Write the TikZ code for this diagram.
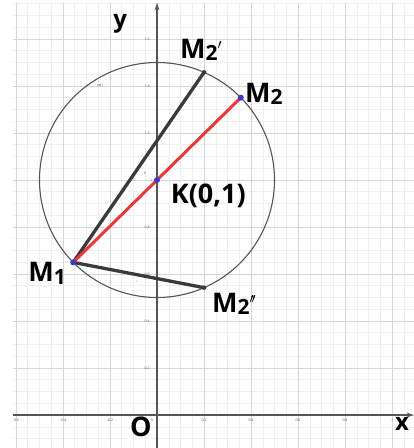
\documentclass[tikz,border=0pt]{standalone}
\usepackage{fontspec}
\setmainfont{Open Sans}
\usetikzlibrary{arrows.meta}
\definecolor{gridmaj}{HTML}{D6D6D6}
\definecolor{gridmin}{HTML}{EFEFEF}
\definecolor{axiscol}{HTML}{555555}
\definecolor{segdark}{HTML}{3A3A3A}
\definecolor{segred}{HTML}{E8383A}
\definecolor{ptblue}{HTML}{3B3BC8}
\newcommand{\subd}[1]{{\fontsize{21}{21}\selectfont\raisebox{-2.5pt}{#1}}}
\newcommand{\prm}{\raisebox{9pt}{\fontsize{15}{15}\selectfont$\prime$}}
\begin{document}
\begin{tikzpicture}[x=235pt,y=235pt,
  lbl/.style={font=\fontsize{27}{27}\selectfont\bfseries, inner sep=0pt, anchor=base west},
  axlbl/.style={font=\fontsize{24}{24}\selectfont\bfseries, inner sep=0pt, anchor=base west},
  tick/.style={font=\fontsize{3.5}{3.5}\selectfont, text=black!70, inner sep=0pt},
  pt/.style={circle, fill=ptblue, inner sep=0pt, minimum size=6pt},
  endpt/.style={circle, fill=segdark, inner sep=0pt, minimum size=4.5pt},
  seg/.style={draw=segdark, line width=3.3pt},
  redseg/.style={draw=segred, line width=3pt}]
\useasboundingbox (-0.66809,-0.14043) rectangle (1.09362,1.76596);
% grid
\begin{scope}
\clip (-0.613,-0.14043) rectangle (1.09362,1.749);
\draw[gridmin, line width=0.5pt, step=0.05] (-0.7,-0.2) grid (1.2,1.8);
\draw[gridmaj, line width=0.8pt, step=0.2] (-0.8,-0.2) grid (1.2,1.8);
\end{scope}
% axes
\coordinate (xa) at (-0.613,0);
\coordinate (xb) at (1.092,0);
\coordinate (ya) at (0,-0.14043);
\coordinate (yb) at (0,1.752);
\draw[axiscol, line width=1.3pt, -{Stealth[length=7pt,width=5pt]}] (xa) -- (xb);
\draw[axiscol, line width=1.3pt, -{Stealth[length=7pt,width=5pt]}] (ya) -- (yb);
% tick labels
\foreach \v/\t in {-0.6/-0.6,-0.4/-0.4,-0.2/-0.2,0.2/0.2,0.4/0.4,0.6/0.6,0.8/0.8,1/1}
  \node[tick] at (\v,-0.022) {\t};
\node[tick] (t0) at (-0.022,-0.022) {0};
\foreach \v in {0.2,0.4,0.6,0.8,1.2,1.4,1.6}
  \node[tick] at (-0.042,\v) {\v};
\node[tick] at (-0.025,1.0) {1};
% circle
\node[draw=axiscol, line width=1.1pt, circle, minimum size=235pt, inner sep=0pt] (c) at (0,1) {};
\node[tick] at (-0.242,1.4) {eq1};
\node[tick] at (-0.05,1.03) {h};
\node[tick] at (-0.085,0.57) {i};
% points
\coordinate (K) at (0,1);
\path (0,1) ++(224.5:0.5) coordinate (M1);
\path (0,1) ++(44.5:0.5) coordinate (M2);
\path (0,1) ++(66.4:0.5) coordinate (M2p);
\path (0,1) ++(-66.4:0.5) coordinate (M2pp);
\draw[seg] (M1) -- (M2p);
\draw[seg] (M1) -- (M2pp);
\draw[redseg] (M1) -- (M2);
\node[endpt] at (M2p) {};
\node[endpt] at (M2pp) {};
\node[pt] (nM1) at (M1) {};
\node[pt] (nM2) at (M2) {};
\node[pt] (nK) at (K) {};
% labels
\node[lbl] (lM2p) at (0.0979,1.519) {M\subd{2}\prm};
\node[lbl] (lM2) at (0.3745,1.3319) {M\subd{2}};
\node[lbl] (lK) at (0.0583,0.9009) {K(0,1)};
\node[lbl] (lM1) at (-0.5477,0.5672) {M\subd{1}};
\node[lbl] (lM2pp) at (0.234,0.437) {M\subd{2}\prm\kern-2pt\prm};
\node[lbl] (lO) at (-0.1149,-0.0923) {O};
\node[axlbl] (lx) at (1.0128,-0.068) {x};
\node[axlbl] (ly) at (-0.187,1.651) {y};
\end{tikzpicture}
\end{document}
